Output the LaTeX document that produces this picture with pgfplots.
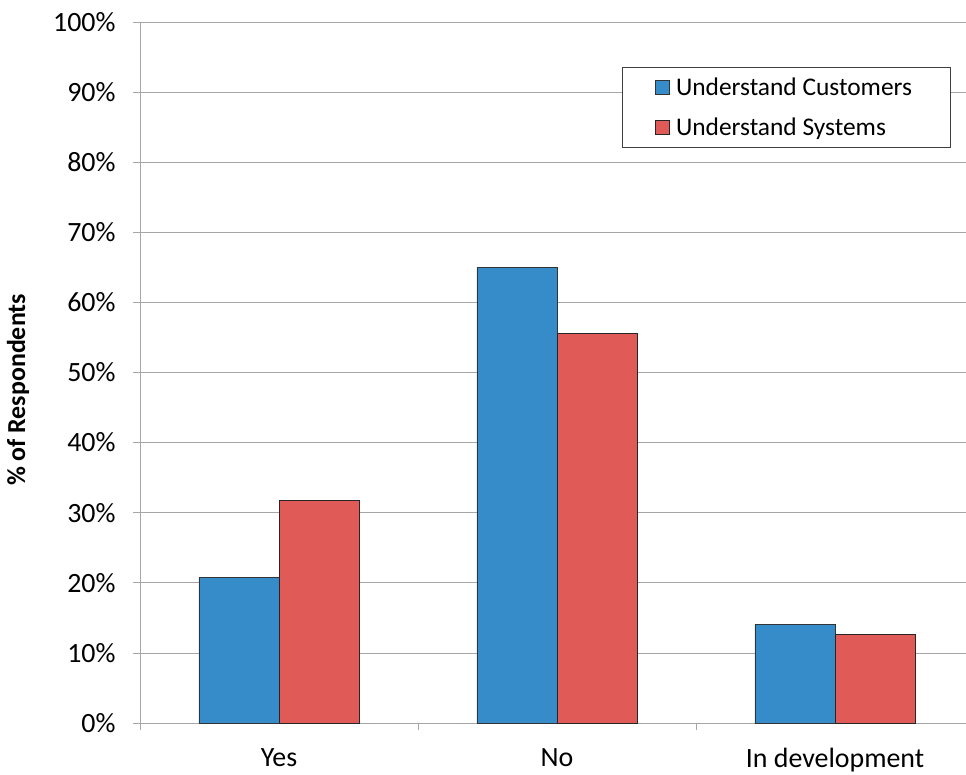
\documentclass[border=0pt]{standalone}
\usepackage{pgfplots}
\pgfplotsset{compat=1.18}
\usetikzlibrary{calc}
\usepackage{fontspec}
\setmainfont{Carlito}
\definecolor{cblue}{HTML}{358CC8}
\definecolor{cred}{HTML}{E05A58}
\definecolor{gridc}{HTML}{A6A6A6}
\begin{document}
\begin{tikzpicture}
\begin{axis}[
  scale only axis, width=826bp, height=701bp,
  xmin=-0.5, xmax=2.471, ymin=0, ymax=100,
  axis lines*=left,
  axis line style={gridc, line width=0.8bp},
  xtick={-0.5,0.5,1.5,2.5}, xticklabels={},
  extra x ticks={0,1,2},
  extra x tick labels={Yes,No,In development},
  extra x tick style={major tick length=0pt, tick label style={yshift=-22bp}},
  ytick={0,10,...,100},
  yticklabel={\pgfmathprintnumber{\tick}\%},
  ymajorgrids, grid style={gridc, line width=0.8bp},
  tick align=outside, major tick length=7bp,
  tick style={gridc, line width=0.8bp},
  tick label style={font=\fontsize{28}{32}\selectfont},
  yticklabel style={xshift=-14bp},
  /pgf/number format/assume math mode=true,
  ylabel={\% of Respondents},
  every axis y label/.style={at={(rel axis cs:0,0.475)}, rotate=90, anchor=center, yshift=122bp, font=\fontsize{26}{30}\selectfont\bfseries},
  legend style={at={(rel axis cs:0.9818,0.9358)}, anchor=north east, draw=black!75, line width=0.8bp,
    font=\fontsize{25.5}{30}\selectfont, inner xsep=32bp, inner ysep=8.5bp, row sep=17bp,
    nodes={inner xsep=6.5bp}},
  legend cell align=left,
  legend image code/.code={\draw[#1, line width=0.8bp] (0bp,-7bp) rectangle (14bp,7bp);},
]
\addplot[ybar, bar width=0.288, bar shift=-0.144, fill=cblue, draw=black!80, line width=0.8bp]
  coordinates {(0,20.8) (1,65.0) (2,14.1)};
\addplot[ybar, bar width=0.288, bar shift=0.144, fill=cred, draw=black!85, line width=0.8bp]
  coordinates {(0,31.8) (1,55.6) (2,12.6)};
\legend{Understand Customers, Understand Systems}
\coordinate (O) at (rel axis cs:0,0);
\coordinate (T) at (rel axis cs:1,1);
\end{axis}
\pgfresetboundingbox
\path ($(O)+(-140bp,-52bp)$) rectangle ($(T)+(0,22bp)$);
\end{tikzpicture}
\end{document}
